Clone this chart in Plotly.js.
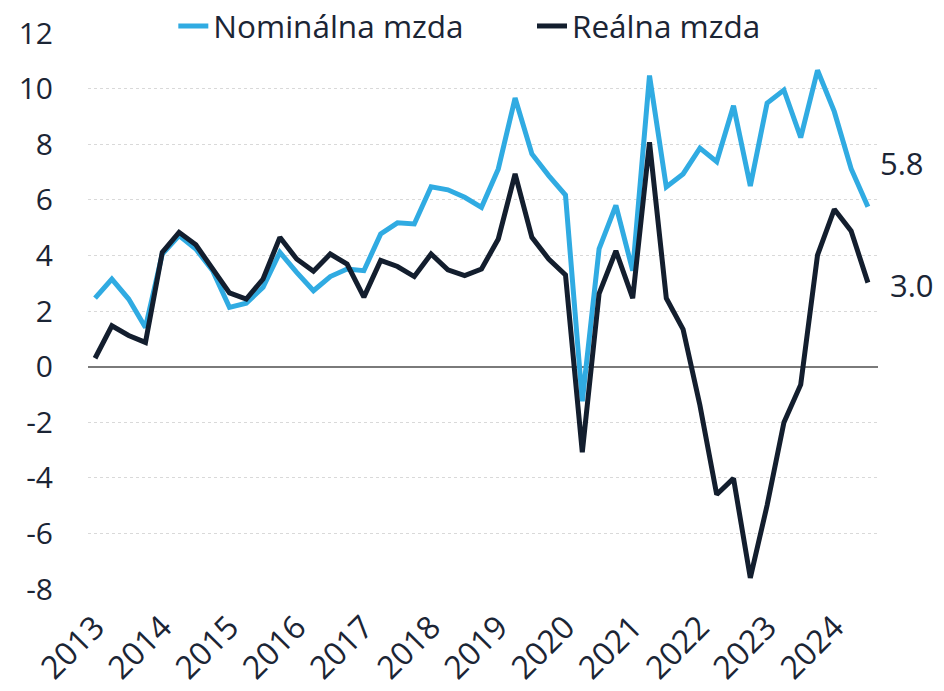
<!DOCTYPE html>
<html>
<head>
<meta charset="utf-8">
<script src="https://cdn.plot.ly/plotly-3.0.1.min.js"></script>
<style>html,body{margin:0;padding:0;background:#fff;}#chart{width:944px;height:691px;}</style>
</head>
<body>
<div id="chart"></div>
<script>
// Quarterly observations 2013 Q1 .. 2024 Q3 (index 0..46)
const quarters = Array.from({length: 47}, (_, i) => i);
const nominal = [2.46, 3.15, 2.43, 1.41, 4.05, 4.71, 4.23, 3.45, 2.13, 2.28, 2.85, 4.11, 3.39, 2.73, 3.24, 3.51,
  3.45, 4.77, 5.17, 5.13, 6.47, 6.36, 6.09, 5.73, 7.11, 9.66, 7.65, 6.87, 6.17, -1.25, 4.24, 5.80,
  3.45, 10.47, 6.46, 6.93, 7.86, 7.37, 9.38, 6.50, 9.48, 9.95, 8.24, 10.66, 9.17, 7.12, 5.75];
const real = [0.30, 1.47, 1.12, 0.87, 4.11, 4.83, 4.38, 3.51, 2.65, 2.43, 3.15, 4.65, 3.87, 3.43, 4.05, 3.69,
  2.50, 3.82, 3.60, 3.24, 4.05, 3.48, 3.27, 3.51, 4.59, 6.93, 4.65, 3.87, 3.30, -3.08, 2.63, 4.16,
  2.46, 8.07, 2.46, 1.34, -1.39, -4.60, -4.02, -7.60, -4.99, -2.01, -0.65, 4.01, 5.66, 4.88, 3.02];
const yearTicks = [0, 4, 8, 12, 16, 20, 24, 28, 32, 36, 40, 44];
const yearLabels = ['2013','2014','2015','2016','2017','2018','2019','2020','2021','2022','2023','2024'];
const yTicks = [-8, -6, -4, -2, 0, 2, 4, 6, 8, 10, 12];
const yLabels = ['-8', '-6', '-4', '-2', '0', '2', '4', '6', '8', '10', '12'];
const seriesNames = ['Nominálna mzda', 'Reálna mzda'];
const lastLabels = ['5.8', '3.0'];

const FONT = '"Open Sans", "Noto Sans", sans-serif';
const TXT = '#1b2535';
const BLUE = '#30abe2';
const DARK = '#131e2e';

const traces = [
  {x: quarters, y: nominal, name: seriesNames[0], type: 'scatter', mode: 'lines',
   line: {color: BLUE, width: 5}, legend: 'legend'},
  {x: quarters, y: real, name: seriesNames[1], type: 'scatter', mode: 'lines',
   line: {color: DARK, width: 5}, legend: 'legend2'}
];

const legendBase = {orientation: 'h', xanchor: 'left', y: 1.0126, yanchor: 'middle',
  font: {family: FONT, size: 31.5, color: TXT}, bgcolor: 'rgba(0,0,0,0)'};

const n = quarters.length - 1;
const layout = {
  width: 944, height: 691,
  margin: {l: 88, r: 66, t: 33, b: 102, autoexpand: false},
  paper_bgcolor: '#fff', plot_bgcolor: '#fff',
  font: {family: FONT, size: 30, color: TXT},
  showlegend: true,
  legend: Object.assign({}, legendBase, {x: 0.108}),
  legend2: Object.assign({}, legendBase, {x: 0.562}),
  xaxis: {range: [-0.42, 46.6], tickvals: yearTicks, ticktext: yearLabels, tickangle: -45,
          showgrid: false, zeroline: false, showline: false, ticks: '', ticklabelstandoff: 12,
          tickfont: {family: FONT, size: 32, color: TXT}},
  yaxis: {range: [-8, 12], tickvals: yTicks, ticktext: yLabels, showgrid: true, gridcolor: '#d9d9d9', griddash: 'dot',
          gridwidth: 1, zeroline: true, zerolinecolor: '#7a7a7a', zerolinewidth: 2,
          showline: false, ticks: '', ticklabelstandoff: 34,
          tickfont: {family: FONT, size: 30, color: TXT}},
  annotations: [
    {x: n, y: nominal[n], xref: 'x', yref: 'y', text: lastLabels[0], showarrow: false,
     xanchor: 'left', yanchor: 'middle', xshift: 10, yshift: 44, font: {family: FONT, size: 31, color: TXT}},
    {x: n, y: real[n], xref: 'x', yref: 'y', text: lastLabels[1], showarrow: false,
     xanchor: 'left', yanchor: 'middle', xshift: 20, yshift: -2, font: {family: FONT, size: 31, color: TXT}}
  ]
};

Plotly.newPlot('chart', traces, layout, {displayModeBar: false, staticPlot: true});
</script>
</body>
</html>
